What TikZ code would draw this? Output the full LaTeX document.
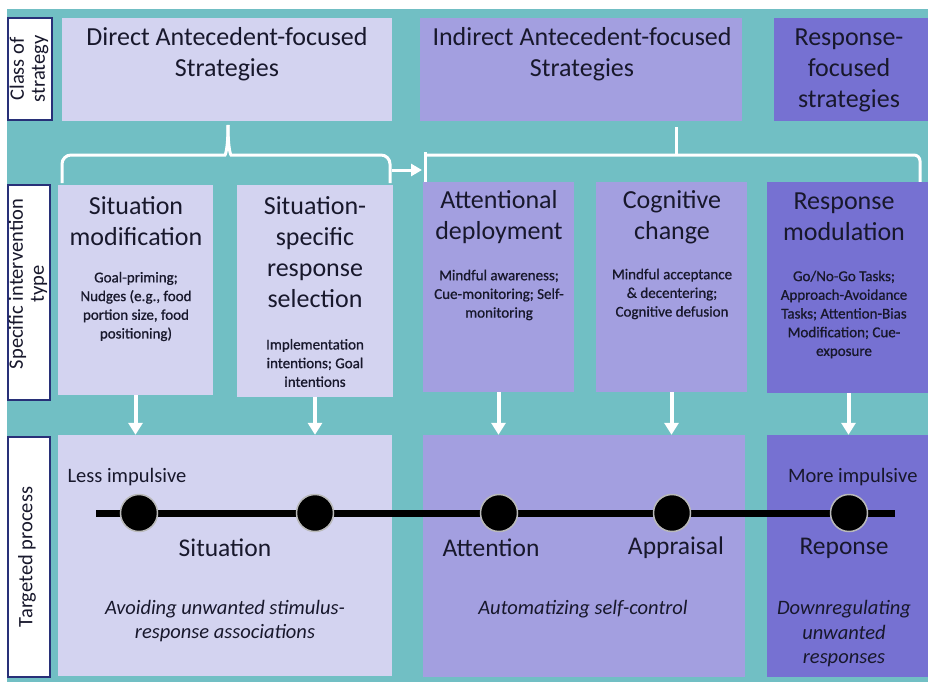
\documentclass[tikz,border=0pt]{standalone}
\usepackage{fontspec}
\setmainfont{Carlito}
\usetikzlibrary{arrows.meta}
\definecolor{tealbg}{RGB}{113,191,196}
\definecolor{lavlight}{RGB}{211,211,240}
\definecolor{lavmid}{RGB}{163,159,224}
\definecolor{lavdark}{RGB}{118,113,210}
\definecolor{navyline}{RGB}{40,48,120}
\definecolor{inkcol}{RGB}{24,24,44}

\begin{document}
\begin{tikzpicture}[x=1pt, y=-1pt,
		box/.style={rectangle, inner sep=0pt, draw=none},
		sidebox/.style={rectangle, inner sep=0pt, fill=white, draw=navyline, line width=2.2pt},
		sidelbl/.style={rotate=90, align=center, text=inkcol, font=\fontsize{20.5}{21}\selectfont},
		head/.style={align=center, text=inkcol, font=\fontsize{26}{31}\selectfont},
		note/.style={align=center, text=inkcol, font=\fontsize{15}{18.7}\selectfont\addfontfeature{FakeBold=0.8}},
		proc/.style={text=inkcol, font=\fontsize{25.5}{31}\selectfont},
		impuls/.style={text=inkcol, font=\fontsize{20.5}{24}\selectfont},
		goal/.style={align=center, text=inkcol, font=\fontsize{20.5}{24.5}\selectfont\itshape},
		stagedot/.style={circle, fill=black, draw=gray!55, line width=1.5pt, minimum size=37pt, inner sep=0pt},
		brk/.style={white, line width=3pt},
		flowarrow/.style={white, line width=4pt, -{Triangle[width=14pt,length=12pt]}}]
			%%%%% START %%%%%
			
			\useasboundingbox (0,0) rectangle (928,682);
			\fill[white] (0,0) rectangle (928,682);
			\fill[tealbg] (7,9) rectangle (928,682);
			
			\node[sidebox, minimum width=44pt, minimum height=102pt] (clsbox) at (30,69) {};
			\node[sidelbl] (clstxt) at (29,69) {Class of\\strategy};
			\node[sidebox, minimum width=42pt, minimum height=215pt] (specbox) at (29,292.5) {};
			\node[sidelbl] (spectxt) at (28,284) {Specific intervention\\type};
			\node[sidebox, minimum width=42pt, minimum height=240pt] (targbox) at (29,557) {};
			\node[sidelbl] (targtxt) at (27,557) {Targeted process};
			
			\node[box, fill=lavlight, minimum width=330pt, minimum height=103pt] (direct) at (227,69.5) {};
			\node[box, fill=lavmid, minimum width=322pt, minimum height=103pt] (indirect) at (581,69.5) {};
			\node[box, fill=lavdark, minimum width=156pt, minimum height=103pt] (respcls) at (852,69.5) {};
			\node[head] (directtxt) at (227,54) {Direct Antecedent-focused\\Strategies};
			\node[head] (indirecttxt) at (582,54) {Indirect Antecedent-focused\\Strategies};
			\node[head] (respclstxt) at (849,70) {Response-\\focused\\strategies};
			
			\draw[brk] (62,183) [rounded corners=9pt] |- (216,155) [sharp corners] .. controls (225,155) and (228,151) .. (228,125);
			\draw[brk] (390,183) [rounded corners=9pt] |- (240,155) [sharp corners] .. controls (231,155) and (228,151) .. (228,125);
			\draw[brk] (425,183) -- (425,152);
			\draw[brk] (425,155) [rounded corners=6pt] -| (920,183);
			\draw[brk] (676,127) -- (676,155);
			\draw[brk, -{Triangle[width=12pt,length=11pt]}] (392,170) -- (422,170);
			
			\node[box, fill=lavlight, minimum width=155pt, minimum height=210pt] (sitmod) at (135.5,290) {};
			\node[box, fill=lavlight, minimum width=156pt, minimum height=212pt] (sitsel) at (315,291) {};
			\node[box, fill=lavmid, minimum width=151pt, minimum height=210pt] (attdep) at (498.5,287) {};
			\node[box, fill=lavmid, minimum width=151pt, minimum height=210pt] (cogchg) at (671.5,287) {};
			\node[box, fill=lavdark, minimum width=163pt, minimum height=211pt] (respmod) at (848.5,287.5) {};
			
			\node[head] (sitmodtxt) at (136,221) {Situation\\modification};
			\node[note] (sitmodnote) at (136,306.5) {Goal-priming;\\Nudges (e.g., food\\portion size, food\\positioning)};
			\node[head] (sitseltxt) at (315,252.5) {Situation-\\specific\\response\\selection};
			\node[note] (sitselnote) at (315,363) {Implementation\\intentions; Goal\\intentions};
			\node[head] (attdeptxt) at (499,217) {Attentional\\deployment};
			\node[note] (attdepnote) at (499,295) {Mindful awareness;\\Cue-monitoring; Self-\\monitoring};
			\node[head] (cogchgtxt) at (672,217) {Cognitive\\change};
			\node[note] (cogchgnote) at (672,294) {Mindful acceptance\\\& decentering;\\Cognitive defusion};
			\node[head] (respmodtxt) at (844,217) {Response\\modulation};
			\node[note] (respmodnote) at (844,314.5) {Go/No-Go Tasks;\\Approach-Avoidance\\Tasks; Attention-Bias\\Modification; Cue-\\exposure};
			
			\node[box, fill=lavlight, minimum width=334pt, minimum height=241pt] (sitproc) at (225,555.5) {};
			\node[box, fill=lavmid, minimum width=322pt, minimum height=242pt] (attproc) at (584,556) {};
			\node[box, fill=lavdark, minimum width=163pt, minimum height=242pt] (resproc) at (848.5,556) {};
			
			\draw[flowarrow] (sitmod.south) -- (sitmod.south |- sitproc.north);
			\draw[flowarrow] (sitsel.south) -- (sitsel.south |- sitproc.north);
			\draw[flowarrow] (attdep.south) -- (attdep.south |- attproc.north);
			\draw[flowarrow] (cogchg.south) -- (cogchg.south |- attproc.north);
			\draw[flowarrow] (respmod.south) -- (respmod.south |- resproc.north);
			
			\coordinate (tlstart) at (96,513);
			\coordinate (tlend) at (895,513);
			\draw[line width=7pt] (tlstart) -- (tlend);
			\node[stagedot] (dsitmod) at (139,513) {};
			\node[stagedot] (dsitsel) at (315,513) {};
			\node[stagedot] (datt) at (499,513) {};
			\node[stagedot] (dapp) at (672,513) {};
			\node[stagedot] (dresp) at (849,513) {};
			
			\node[impuls, anchor=west] (less) at (64,477) {Less impulsive};
			\node[impuls, anchor=east] (more) at (921,477) {More impulsive};
			\node[proc] (lsit) at (225,548) {Situation};
			\node[proc] (latt) at (491,548) {Attention};
			\node[proc] (lapp) at (676,548) {Appraisal};
			\node[proc] (lresp) at (844,548) {Reponse};
			
			\node[goal] (gsit) at (225,621) {Avoiding unwanted stimulus-\\response associations};
			\node[goal] (gatt) at (583,609) {Automatizing self-control};
			\node[goal] (gresp) at (844,634) {Downregulating\\unwanted\\responses};
			
			%%%%% END %%%%%
		\end{tikzpicture}
\end{document}
